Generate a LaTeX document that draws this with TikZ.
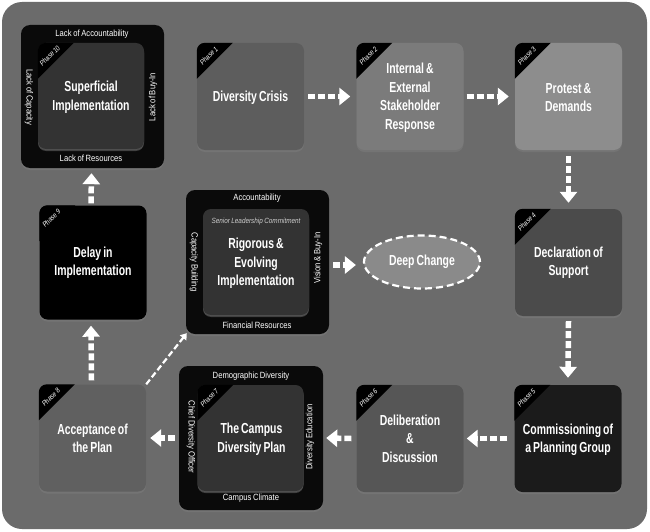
\documentclass[tikz,border=0pt]{standalone}
\usepackage{fontspec}
\setmainfont{Liberation Sans}
\newfontfamily\condfont{Liberation Sans}[FakeStretch=0.72,WordSpace=0.7]
\newfontfamily\sidefont{Liberation Sans}[FakeStretch=0.85,WordSpace=0.8]
\usetikzlibrary{arrows.meta,shapes.geometric,shadows,calc}
\definecolor{panelgray}{HTML}{6B6B6B}
\definecolor{cA}{HTML}{5D5D5D}
\definecolor{cB}{HTML}{7B7B7B}
\definecolor{cC}{HTML}{8D8D8D}
\definecolor{cD}{HTML}{4B4B4B}
\definecolor{cE}{HTML}{1B1B1B}
\definecolor{cF}{HTML}{565656}
\definecolor{cH}{HTML}{606060}
\definecolor{innerdark}{HTML}{333333}
\definecolor{outerblack}{HTML}{0A0A0A}
\definecolor{deepfill}{HTML}{8A8A8A}
\definecolor{seniorgray}{HTML}{CFCFCF}
\newcommand{\phasecorner}[2]{%
  \begin{scope}
    \clip[rounded corners=8pt] (#1.south west) rectangle (#1.north east);
    \fill[black] (#1.north west) -- ++(36,0) -- ++(-36,36) -- cycle;
  \end{scope}
  \node[phaselbl] (#1lbl) at ($(#1.north west)+(12,13)$) {#2};}
\begin{document}
\begin{tikzpicture}[x=1pt,y=-1pt,
  boxshadow/.style={drop shadow={shadow xshift=0pt,shadow yshift=-2pt,opacity=0.45}},
  phasebox/.style={rectangle, rounded corners=8pt, minimum width=107pt, minimum height=107pt,
    inner sep=0pt, boxshadow},
  title/.style={align=center, text=white, inner sep=0pt,
    font=\condfont\bfseries\fontsize{14.5}{18.5}\selectfont},
  outerbox/.style={rectangle, rounded corners=9pt, fill=outerblack, minimum width=143pt,
    minimum height=143pt, inner sep=0pt, boxshadow},
  innerbox/.style={phasebox, fill=innerdark, minimum width=106pt, minimum height=106pt,
    drop shadow={shadow xshift=0pt,shadow yshift=-1pt,opacity=0.3}},
  phaselbl/.style={rotate=45, text=white, inner sep=0pt,
    font=\sidefont\itshape\fontsize{7.2}{7.5}\selectfont},
  side/.style={text=white, inner sep=0pt, font=\sidefont\fontsize{9}{10}\selectfont},
  bigarrow/.style={draw=white, line width=5.5pt, dash pattern=on 7pt off 3pt,
    -{Triangle[length=11pt,width=17pt]}},
  thinarrow/.style={draw=white, line width=2.2pt, dash pattern=on 6pt off 3pt,
    -{Triangle[length=6pt,width=8pt]}}
]
\useasboundingbox (0,0) rectangle (650,532);
\fill[white] (0,0) rectangle (650,532);
\fill[panelgray, rounded corners=20pt] (2,2) rectangle (647,529);

% Phase 10
\node[outerbox] (p10o) at (92.5,96.5) {};
\node[innerbox] (p10) at (91,96) {};
\node[title] (p10x) at (91,97.5) {Superficial\\Implementation};
\phasecorner{p10}{Phase 10}
\node[side] (p10t) at (92,34) {Lack of Accountability};
\node[side] (p10b) at (91,158) {Lack of Resources};
\node[side, rotate=-90] (p10l) at (29,97) {Lack of Capacity};
\node[side, rotate=90] (p10r) at (153,97) {Lack of Buy-In};

% Phase 1-6, 8, 9
\node[phasebox, fill=cA] (p1) at (250.5,96.5) {};
\node[title] (p1x) at (250.5,97.5) {Diversity Crisis};
\phasecorner{p1}{Phase 1}
\node[phasebox, fill=cB] (p2) at (410,96.5) {};
\node[title] (p2x) at (410,98) {Internal \&\\External\\Stakeholder\\Response};
\phasecorner{p2}{Phase 2}
\node[phasebox, fill=cC] (p3) at (568.5,96.5) {};
\node[title] (p3x) at (568.5,97.5) {Protest \&\\Demands};
\phasecorner{p3}{Phase 3}
\node[phasebox, fill=cD] (p4) at (568.5,262.5) {};
\node[title] (p4x) at (568.5,262.5) {Declaration of\\Support};
\phasecorner{p4}{Phase 4}
\node[phasebox, fill=cE] (p5) at (568,438.5) {};
\node[title] (p5x) at (568,440) {Commissioning of\\a Planning Group};
\phasecorner{p5}{Phase 5}
\node[phasebox, fill=cF] (p6) at (410,438.5) {};
\node[title] (p6x) at (410,438.5) {Deliberation\\\&\\Discussion};
\phasecorner{p6}{Phase 6}
\node[phasebox, fill=cH] (p8) at (92.5,438) {};
\node[title] (p8x) at (92.5,438.5) {Acceptance of\\the Plan};
\phasecorner{p8}{Phase 8}
\node[phasebox, fill=black, minimum height=114pt] (p9) at (93,262.5) {};
\node[title] (p9x) at (93,262.5) {Delay in\\Implementation};
\phasecorner{p9}{Phase 9}

% Phase 7
\node[outerbox, minimum width=144pt, minimum height=144pt] (p7o) at (251,438) {};
\node[innerbox] (p7) at (250.5,438) {};
\node[title] (p7x) at (251.5,439) {The Campus\\Diversity Plan};
\phasecorner{p7}{Phase 7}
\node[side] (p7t) at (251,376) {Demographic Diversity};
\node[side] (p7b) at (251,498) {Campus Climate};
\node[side, rotate=-90] (p7l) at (191,437) {Chief Diversity Officer};
\node[side, rotate=90] (p7r) at (310,437) {Diversity Education};

% Rigorous implementation
\node[outerbox, minimum height=144pt] (rigo) at (257.5,262) {};
\node[innerbox] (rig) at (256,262) {};
\node[title] (rigx) at (256,263.5) {Rigorous \&\\Evolving\\Implementation};
\node[text=seniorgray, inner sep=0pt, font=\sidefont\itshape\fontsize{7.5}{8}\selectfont] (senior) at (256,222) {Senior Leadership Commitment};
\node[side] (rigt) at (257,198) {Accountability};
\node[side] (rigb) at (257,325) {Financial Resources};
\node[side, rotate=-90] (rigl) at (194,262) {Capacity Building};
\node[side, rotate=90] (rigr) at (318,258) {Vision \& Buy-In};

% Deep change
\node[ellipse, fill=deepfill, draw=white, line width=2.2pt, dash pattern=on 7pt off 4pt,
  minimum width=116pt, minimum height=53pt, inner sep=0pt] (deep) at (422,262) {};
\node[title] (deepx) at (422,262) {Deep Change};

% Connectors
\draw[bigarrow] ($(p1.east)+(4,0)$) -- ($(p2.west)+(-6,0)$);
\draw[bigarrow] ($(p2.east)+(3,0)$) -- ($(p3.west)+(-6,0)$);
\draw[bigarrow] ($(p3.south)+(0,6)$) -- ($(p4.north)+(0,-6)$);
\draw[bigarrow] ($(p4.south)+(0,5)$) -- ($(p5.north)+(0,-7)$);
\draw[bigarrow] ($(p5.west)+(-7,0)$) -- ($(p6.east)+(3,0)$);
\draw[bigarrow] ($(p6.west)+(-5,0)$) -- ($(p7o.east)+(3,0)$);
\draw[bigarrow] ($(p7o.west)+(-4,0)$) -- ($(p8.east)+(4,0)$);
\draw[bigarrow] ($(p8.north)+(-1,-4)$) -- ($(p9.south)+(-2,6)$);
\draw[bigarrow] ($(p9.north)+(-2,-2)$) -- ($(p10o.south)+(-1,5)$);
\draw[bigarrow] ($(rigo.east)+(4,3)$) -- ($(deep.west)+(-7,3)$);
\draw[thinarrow] (p8.north east) -- ($(rigo.south west)+(1,-1)$);
\end{tikzpicture}
\end{document}
